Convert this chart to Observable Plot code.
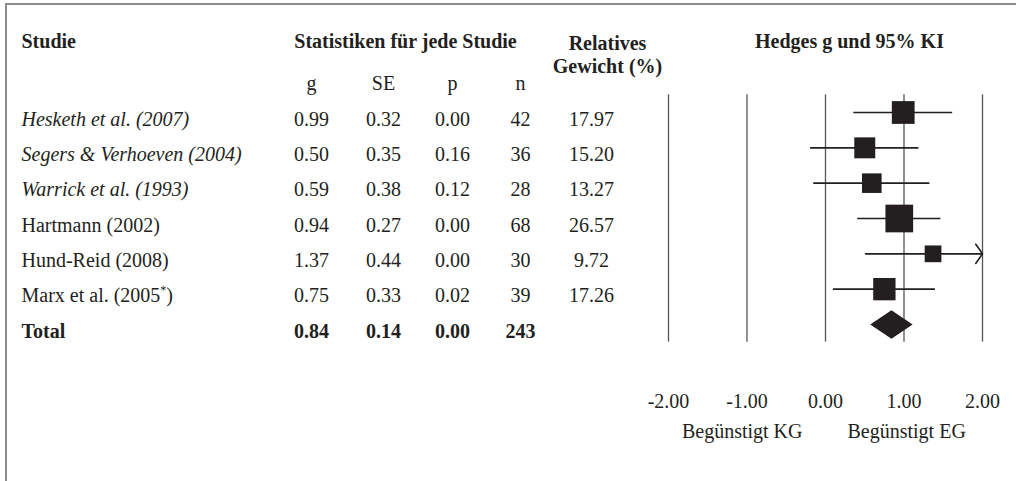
<!DOCTYPE html>
<html><head><meta charset="utf-8">
<script src="https://cdn.jsdelivr.net/npm/d3@7"></script>
<script src="https://cdn.jsdelivr.net/npm/@observablehq/plot@0.6"></script>
<style>
html,body{margin:0;padding:0;background:#fff;}
#wrap{position:relative;width:1016px;height:481px;overflow:hidden;}
#border{position:absolute;left:5px;top:3px;right:-10px;bottom:-10px;border-top:2px solid #8c8c8c;border-left:2px solid #8c8c8c;pointer-events:none;}
</style></head><body><div id="wrap"><div id="border"></div></div>
<script>
// ---- data ----
const studies = ["Hesketh et al. (2007)", "Segers & Verhoeven (2004)", "Warrick et al. (1993)", "Hartmann (2002)", "Hund-Reid (2008)", "Marx et al. (2005*)"];
const gValues = [0.99, 0.50, 0.59, 0.94, 1.37, 0.75];
const seValues = [0.32, 0.35, 0.38, 0.27, 0.44, 0.33];
const pValues = [0.00, 0.16, 0.12, 0.00, 0.00, 0.02];
const nValues = [42, 36, 28, 68, 30, 39];
const weights = [17.97, 15.20, 13.27, 26.57, 9.72, 17.26];
const ciLow = [0.36, -0.19, -0.15, 0.41, 0.51, 0.10];
const ciHigh = [1.62, 1.19, 1.33, 1.47, 2.23, 1.40];
const italicStudies = studies.slice(0, 3);
const totalLabel = "Total";
const totalG = 0.84, totalSE = 0.14, totalP = 0.00, totalN = 243, totalLow = 0.57, totalHigh = 1.11;
const xTicks = [-2, -1, 0, 1, 2];
const statHeaders = ["g", "SE", "p", "n"];
const favourLabels = ["Begünstigt KG", "Begünstigt EG"];
const titleStudy = "Studie", titleStats = "Statistiken für jede Studie", titleWeight = "Relatives\nGewicht (%)", titleForest = "Hedges g und 95% KI";

// ---- layout ----
const colX = [311, 383, 452, 520, 591];
const nameX = 21;
const ink = "#231f20";
const fmt2 = d => d.toFixed(2);

const rows = studies.map((study, i) => ({row: i, study, g: gValues[i], se: seValues[i], p: pValues[i], n: nValues[i], weight: weights[i], low: ciLow[i], high: ciHigh[i]}));
const totalRow = {row: studies.length, study: totalLabel, g: totalG, se: totalSE, p: totalP, n: totalN, low: totalLow, high: totalHigh};
const xMin = d3.min(xTicks), xMax = d3.max(xTicks);

const base = {fontSize: 20, fill: ink};
function cell(data, text, dx, extra = {}) {
  return Plot.text(data, {y: "row", text, frameAnchor: "left", dx, dy: 13, lineAnchor: "bottom", textAnchor: "middle", ...base, ...extra});
}
function title(text, dx, extra = {}) {
  return Plot.text([text], {frameAnchor: "top-left", dx, dy: 47, lineAnchor: "bottom", textAnchor: "middle", fontWeight: "bold", ...base, ...extra});
}

const fields = [["g", fmt2], ["se", fmt2], ["p", fmt2], ["n", d => String(d)]];
const marks = [
  // table titles
  title(titleStudy, nameX, {textAnchor: "start"}),
  title(titleStats, 405),
  Plot.text([titleWeight], {frameAnchor: "top-left", dx: 607, dy: 33, lineAnchor: "top", lineHeight: 1.15, textAnchor: "middle", fontWeight: "bold", ...base}),
  title(titleForest, 849),
  // column headers
  ...statHeaders.map((h, k) => cell([{row: -1}], () => h, colX[k])),
  // study names
  cell(rows.filter(d => italicStudies.includes(d.study)), "study", nameX, {textAnchor: "start", fontStyle: "italic"}),
  cell(rows.filter(d => !italicStudies.includes(d.study)), "study", nameX, {textAnchor: "start"}),
  cell([totalRow], "study", nameX, {textAnchor: "start", fontWeight: "bold"}),
  // values
  ...fields.map(([f, fmt], k) => cell(rows, d => fmt(d[f]), colX[k])),
  cell(rows, d => fmt2(d.weight), colX[4]),
  ...fields.map(([f, fmt], k) => cell([totalRow], d => fmt(d[f]), colX[k], {fontWeight: "bold"})),
  // forest
  Plot.ruleX(xTicks, {x: d => d, y1: -0.5, y2: studies.length + 0.5, stroke: "#555", strokeWidth: 1.3}),
  Plot.ruleY(rows.filter(d => d.high <= xMax), {y: "row", x1: "low", x2: "high", stroke: ink, strokeWidth: 1.6}),
  Plot.arrow(rows.filter(d => d.high > xMax), {x1: "low", x2: d => Math.min(d.high, xMax), y1: "row", y2: "row", bend: 0, headAngle: 110, headLength: 11, stroke: ink, strokeWidth: 1.6}),
  Plot.dot(rows, {x: "g", y: "row", r: "weight", symbol: "square", fill: ink, stroke: "none"}),
  Plot.line([[totalRow.low, totalRow.row], [totalRow.g, totalRow.row - 0.4], [totalRow.high, totalRow.row], [totalRow.g, totalRow.row + 0.4], [totalRow.low, totalRow.row]], {fill: ink, stroke: "none"}),
  Plot.axisX({ticks: xTicks, tickFormat: fmt2, tickSize: 0, tickPadding: 3, label: null, fontSize: 20, fill: ink}),
  Plot.text([favourLabels[0]], {x: 0, frameAnchor: "bottom", textAnchor: "end", dx: -23, dy: 47, lineAnchor: "bottom", ...base}),
  Plot.text([favourLabels[1]], {x: 0, frameAnchor: "bottom", textAnchor: "start", dx: 22, dy: 47, lineAnchor: "bottom", ...base})
];

const chart = Plot.plot({
  width: 1016, height: 481,
  marginLeft: 0, marginRight: 0, marginTop: 0, marginBottom: 91,
  style: {fontFamily: "'Liberation Serif', 'Times New Roman', serif", fontSize: "20px", color: ink, background: "transparent"},
  x: {domain: [xMin, xMax], range: [668, 982], label: null},
  y: {domain: [0, studies.length], range: [112, 324], axis: null},
  r: {type: "sqrt", domain: [0, d3.max(weights)], range: [0, 27.7 / Math.sqrt(Math.PI)]},
  marks
});

// superscript asterisk
chart.querySelectorAll("text").forEach(t => {
  if (t.textContent === "Marx et al. (2005*)") {
    const ns = "http://www.w3.org/2000/svg";
    t.textContent = "Marx et al. (2005";
    const s = document.createElementNS(ns, "tspan");
    s.setAttribute("dy", "-8"); s.setAttribute("font-size", "12"); s.textContent = "*";
    const c = document.createElementNS(ns, "tspan");
    c.setAttribute("dy", "8"); c.textContent = ")";
    t.appendChild(s); t.appendChild(c);
  }
});
document.getElementById("wrap").prepend(chart);
</script></body></html>
